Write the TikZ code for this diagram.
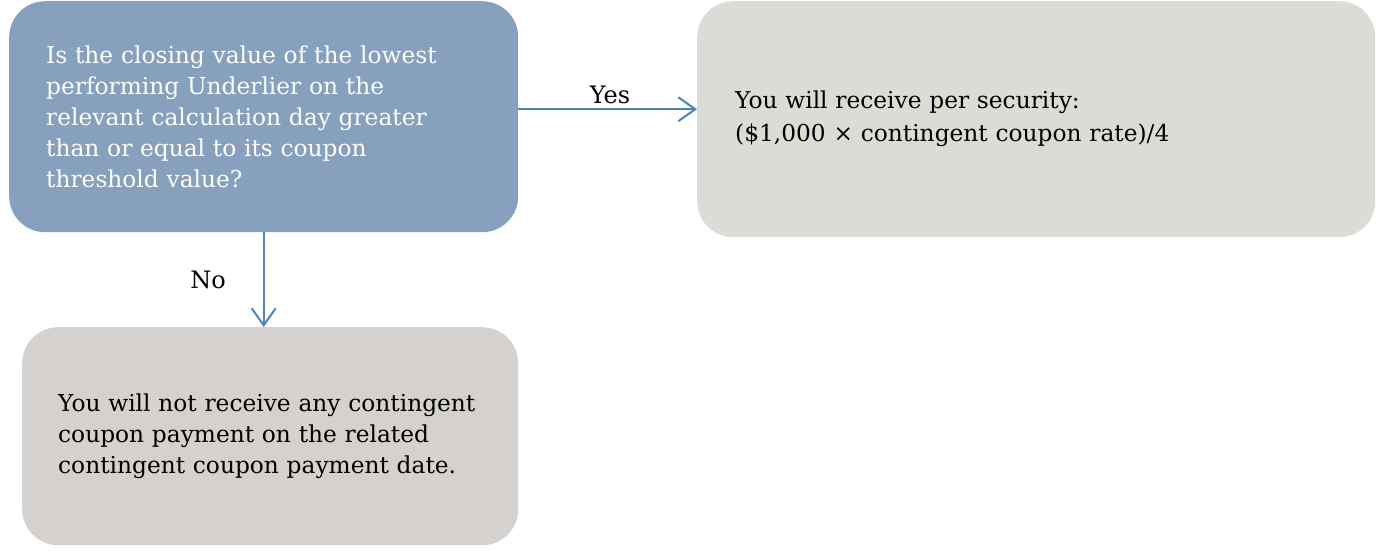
\documentclass[tikz,border=0pt]{standalone}
\usepackage{fontspec}
\setmainfont{DejaVu Serif}
\usetikzlibrary{arrows.meta}
\definecolor{qblue}{HTML}{86A0BE}
\definecolor{ygrey}{HTML}{DADDD6}
\definecolor{ngrey}{HTML}{D5D1CE}
\definecolor{arrblue}{HTML}{4F81BD}
\tikzset{
  box/.style={rounded corners=36pt, draw=none, align=left, anchor=north west,
    font=\fontsize{23.3}{31}\selectfont, inner ysep=0pt},
  arr/.style={draw=arrblue, line width=2pt, -{Straight Barb[length=17pt,width=24pt,line width=2pt]}},
  lbl/.style={font=\fontsize{24}{28}\selectfont, text=black}
}
\begin{document}
\begin{tikzpicture}[x=1pt,y=-1pt]
\useasboundingbox (0,0) rectangle (1383,550);
\node[box, fill=qblue, text=white, minimum width=509pt, minimum height=231pt,
      text width=435pt, inner xsep=37pt] (A) at (9,1)
  {Is the closing value of the lowest\\performing Underlier on the\\relevant calculation day greater\\than or equal to its coupon\\threshold value?};
\node[box, fill=ygrey, minimum width=678pt, minimum height=236pt,
      text width=602pt, inner xsep=38pt, font=\fontsize{23.3}{33}\selectfont] (B) at (697,1)
  {You will receive per security:\\(\$1,000 × contingent coupon rate)/4};
\node[box, fill=ngrey, minimum width=496pt, minimum height=218pt,
      text width=424pt, inner xsep=36pt] (C) at (22,327)
  {You will not receive any contingent\\coupon payment on the related\\contingent coupon payment date.};
\coordinate (ya) at ([yshift=7.5pt]A.east);
\draw[arr] (ya) -- (ya -| B.west);
\draw[arr] (A.south) -- (A.south |- C.north);
\node[lbl] (yes) at (610,95) {Yes};
\node[lbl] (no) at (208,280) {No};
\end{tikzpicture}
\end{document}
